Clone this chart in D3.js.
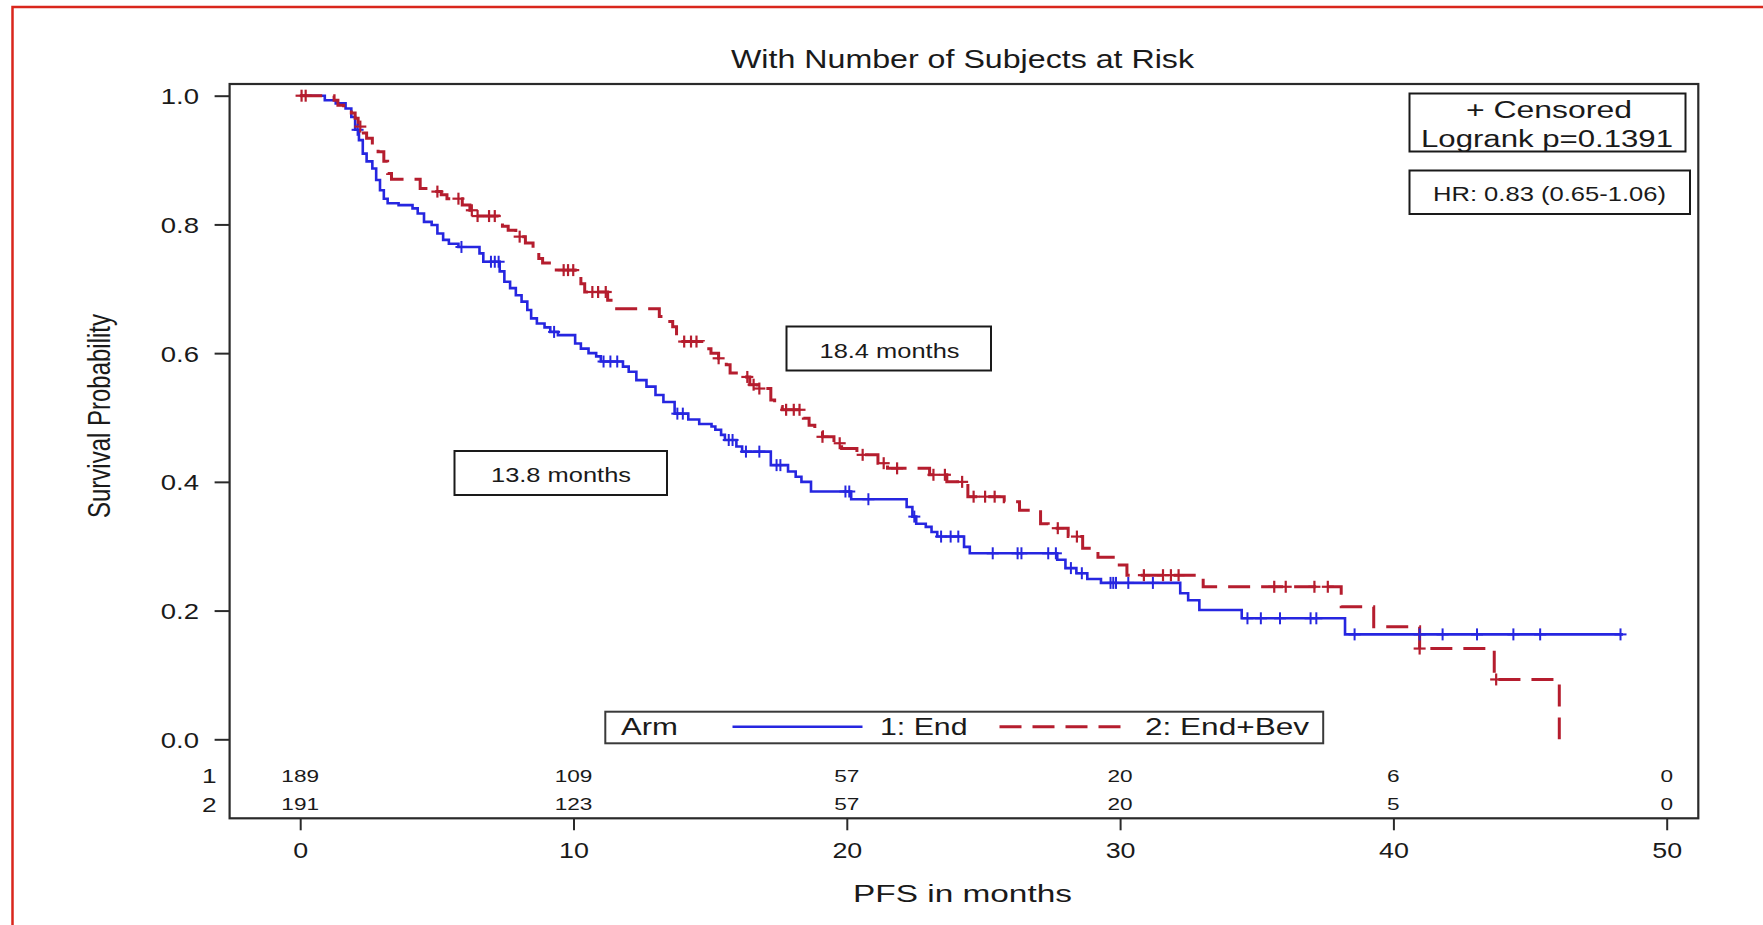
<!DOCTYPE html>
<html>
<head>
<meta charset="utf-8">
<script src="https://cdn.jsdelivr.net/npm/d3@7"></script>
<style>
  html, body { margin: 0; padding: 0; background: #fff; }
  svg { display: block; }
  text { font-family: "Liberation Sans", Arial, sans-serif; fill: #1a1a1a; }
</style>
</head>
<body>
<svg id="chart" width="1763" height="925"></svg>
<script>
// Kaplan–Meier estimates, arm 1 (End): event times in months and survival after each step
const endTimes = [0.9,1.3,1.66,1.87,2.01,2.15,2.29,2.43,2.64,2.78,2.92,3.06,3.2,3.6,4.11,4.3,4.53,4.81,5.02,5.23,5.44,5.79,6.56,6.7,7.3,7.47,7.68,7.89,8.1,8.31,8.45,8.66,8.94,9.15,9.43,10.06,10.27,10.55,10.83,11.0,11.81,12.02,12.3,12.67,13.0,13.29,13.7,14.2,14.6,15.05,15.19,15.4,15.54,15.96,16.17,17.22,17.85,18.13,18.34,18.69,20.16,22.19,22.4,22.54,22.89,23.1,23.31,24.29,24.5,27.7,28.0,28.4,28.8,29.3,32.2,32.49,32.9,34.45,38.23];
const endSurv = [0.993,0.988,0.98,0.967,0.947,0.931,0.91,0.898,0.887,0.869,0.853,0.84,0.833,0.83,0.825,0.817,0.804,0.799,0.786,0.776,0.77,0.765,0.755,0.742,0.727,0.711,0.701,0.69,0.68,0.667,0.654,0.646,0.64,0.633,0.628,0.615,0.607,0.6,0.595,0.587,0.579,0.571,0.558,0.548,0.535,0.524,0.506,0.497,0.49,0.486,0.481,0.473,0.465,0.455,0.447,0.426,0.416,0.408,0.4,0.385,0.373,0.361,0.346,0.335,0.33,0.322,0.315,0.299,0.289,0.279,0.266,0.258,0.249,0.243,0.227,0.216,0.201,0.188,0.163];
const endCensor = [2.1,5.9,6.98,7.12,7.26,9.29,11.1,11.35,11.6,13.8,14.0,15.68,15.82,16.31,16.8,17.43,17.57,19.95,20.09,20.79,22.47,23.45,23.8,24.08,25.34,26.25,26.39,27.37,27.65,28.2,28.6,29.65,29.75,29.85,30.3,31.2,34.66,35.15,35.85,36.97,37.18,38.58,40.96,41.8,43.06,44.39,45.37,48.31];
const endLastFollowUp = 48.4;

// Arm 2 (End+Bev)
const bevTimes = [1.24,1.38,1.59,1.87,2.01,2.12,2.22,2.43,2.64,2.85,3.06,3.2,3.34,4.39,4.6,5.16,5.37,5.93,6.21,6.4,7.26,7.4,7.61,7.89,8.24,8.52,8.73,8.87,9.22,10.06,10.27,10.41,11.25,11.46,13.14,13.35,13.63,13.77,13.91,14.75,15.03,15.31,15.59,15.73,16.17,16.45,16.73,17.22,17.36,17.64,18.41,18.62,18.83,19.11,19.53,19.81,20.37,21.14,21.49,23.03,23.66,24.43,25.76,26.32,27.09,27.37,28.1,28.63,29.19,29.97,30.25,33.04,38.09,39.28,40.96,43.69,46.07];
const bevSurv = [0.993,0.985,0.98,0.973,0.965,0.952,0.942,0.934,0.923,0.913,0.898,0.879,0.87,0.856,0.851,0.846,0.84,0.83,0.822,0.813,0.807,0.797,0.791,0.781,0.771,0.76,0.747,0.74,0.729,0.719,0.708,0.695,0.682,0.669,0.657,0.649,0.641,0.625,0.618,0.607,0.6,0.592,0.582,0.569,0.563,0.551,0.545,0.527,0.517,0.512,0.499,0.488,0.478,0.47,0.46,0.452,0.442,0.429,0.421,0.411,0.4,0.377,0.369,0.356,0.335,0.328,0.315,0.297,0.283,0.271,0.255,0.237,0.206,0.175,0.141,0.093,0];
const bevCensor = [0.05,0.2,2.2,5.02,5.79,6.28,6.49,6.91,7.12,8.03,9.64,9.8,9.99,10.69,10.9,11.18,14.05,14.3,14.5,15.31,16.36,16.59,16.8,17.78,18.06,18.27,19.11,19.74,20.58,21.35,21.84,23.17,23.59,24.22,24.64,25.06,25.41,27.72,28.42,30.87,31.57,31.86,32.14,35.64,36.06,37.11,37.6,40.96,43.76];
const bevLastFollowUp = 46.07;

// Number of subjects at risk
const riskTimes = [0, 10, 20, 30, 40, 50];
const riskEnd = [189, 109, 57, 20, 6, 0];
const riskBev = [191, 123, 57, 20, 5, 0];

// Axis ticks
const xTicks = [0, 10, 20, 30, 40, 50];
const yTicks = [0, 0.2, 0.4, 0.6, 0.8, 1.0];

// Median PFS labels
const medianEnd = "13.8 months";
const medianBev = "18.4 months";

const BLUE = "#2626e0";
const RED = "#b51d2e";

const svg = d3.select("#chart");

// outer red border
svg.append("rect")
  .attr("x", 12.5).attr("y", 7).attr("width", 1800).attr("height", 1000)
  .attr("fill", "none").attr("stroke", "#d9261c").attr("stroke-width", 2.5);

const x = d3.scaleLinear().domain([0, 50]).range([300.2, 1666.7]);
const y = d3.scaleLinear().domain([0, 1]).range([739.3, 95.7]);

const frame = { left: 229.6, top: 84, right: 1698.3, bottom: 818.3 };

// text helper: left-anchored text stretched to a given width
function fitText(str, left, base, size, width) {
  return svg.append("text")
    .attr("x", left).attr("y", base)
    .attr("font-size", size)
    .attr("textLength", width)
    .attr("lengthAdjust", "spacingAndGlyphs")
    .text(str);
}
// text helper: anchored text with a horizontal stretch factor
function wideText(g, str, px, py, size, anchor, sx) {
  return g.append("text")
    .attr("transform", `translate(${px},${py}) scale(${sx},1)`)
    .attr("text-anchor", anchor)
    .attr("font-size", size)
    .text(str);
}

// title
fitText("With Number of Subjects at Risk", 731, 68, 26, 463);

// plot frame
svg.append("rect")
  .attr("x", frame.left).attr("y", frame.top)
  .attr("width", frame.right - frame.left).attr("height", frame.bottom - frame.top)
  .attr("fill", "none").attr("stroke", "#2a2a2a").attr("stroke-width", 2.2);

// y axis
const yAxis = svg.append("g")
  .attr("transform", `translate(${frame.left},0)`)
  .call(d3.axisLeft(y).tickValues(yTicks).tickFormat(d3.format(".1f")).tickSize(15).tickPadding(15.6));
yAxis.select(".domain").remove();
yAxis.selectAll(".tick line").attr("stroke", "#2a2a2a").attr("stroke-width", 2);
yAxis.selectAll(".tick text")
  .attr("font-size", 22).attr("font-family", null).attr("fill", "#1a1a1a")
  .each(function () {
    const t = d3.select(this);
    const tx = +t.attr("x");
    t.attr("x", 0).attr("dy", null).attr("transform", `translate(${tx},8) scale(1.25,1)`);
  });

// x axis
const xAxis = svg.append("g")
  .attr("transform", `translate(0,${frame.bottom})`)
  .call(d3.axisBottom(x).tickValues(xTicks).tickSize(12).tickPadding(12));
xAxis.select(".domain").remove();
xAxis.selectAll(".tick line").attr("stroke", "#2a2a2a").attr("stroke-width", 2);
xAxis.selectAll(".tick text")
  .attr("font-size", 22).attr("font-family", null).attr("fill", "#1a1a1a")
  .each(function () {
    const t = d3.select(this);
    t.attr("y", null).attr("dy", null).attr("transform", `translate(0,40) scale(1.22,1)`);
  });

// axis titles
fitText("PFS in months", 853, 902, 23, 219);
svg.append("text")
  .attr("transform", "translate(110,416) rotate(-90) scale(1,1.3)")
  .attr("text-anchor", "middle")
  .attr("font-size", 24)
  .text("Survival Probability");

// survival curves
function survAt(times, surv, t) {
  const i = d3.bisectRight(times, t) - 1;
  return i < 0 ? 1 : surv[i];
}
function curvePoints(times, surv, last) {
  const pts = [[0, 1]];
  times.forEach((t, i) => pts.push([t, surv[i]]));
  if (last > times[times.length - 1]) pts.push([last, surv[surv.length - 1]]);
  return pts;
}
const stepLine = d3.line().x(d => x(d[0])).y(d => y(d[1])).curve(d3.curveStepAfter);

const curves = svg.append("g");
curves.append("path")
  .attr("d", stepLine(curvePoints(endTimes, endSurv, endLastFollowUp)))
  .attr("fill", "none").attr("stroke", BLUE).attr("stroke-width", 2.6);
curves.append("path")
  .attr("d", stepLine(curvePoints(bevTimes, bevSurv, bevLastFollowUp)))
  .attr("fill", "none").attr("stroke", RED).attr("stroke-width", 3)
  .attr("stroke-dasharray", "22,11");

// censoring marks
function drawCensors(times, surv, cens, color, w) {
  const g = svg.append("g").attr("stroke", color).attr("stroke-width", w);
  cens.forEach(t => {
    const cx = x(t), cy = y(survAt(times, surv, t));
    g.append("line").attr("x1", cx).attr("x2", cx).attr("y1", cy - 6).attr("y2", cy + 6);
    g.append("line").attr("x1", cx - 6).attr("x2", cx + 6).attr("y1", cy).attr("y2", cy);
  });
}
drawCensors(endTimes, endSurv, endCensor, BLUE, 2);
drawCensors(bevTimes, bevSurv, bevCensor, RED, 2.2);

// info boxes
function box(x0, y0, x1, y1) {
  svg.append("rect").attr("x", x0).attr("y", y0).attr("width", x1 - x0).attr("height", y1 - y0)
    .attr("fill", "#fff").attr("stroke", "#1a1a1a").attr("stroke-width", 2);
}
box(1409.5, 93.5, 1685.5, 151.5);
fitText("+ Censored", 1466, 117.5, 23, 166);
fitText("Logrank p=0.1391", 1421, 146.5, 23, 252);
box(1409.5, 170.5, 1690, 214);
fitText("HR: 0.83 (0.65-1.06)", 1433, 200.5, 21, 233);

box(786.5, 326.5, 991, 370.5);
fitText(medianBev, 819.5, 357.5, 21, 140);
box(454.5, 451, 667, 495);
fitText(medianEnd, 491, 482, 21, 140);

// legend
svg.append("rect").attr("x", 605.3).attr("y", 711.7).attr("width", 717.9).attr("height", 31.6)
  .attr("fill", "#fff").attr("stroke", "#3a3a3a").attr("stroke-width", 2);
fitText("Arm", 621, 735, 24.5, 57);
svg.append("line").attr("x1", 732.5).attr("x2", 862.5).attr("y1", 726.7).attr("y2", 726.7)
  .attr("stroke", BLUE).attr("stroke-width", 2.6);
fitText("1: End", 880, 735, 24.5, 87.5);
svg.append("line").attr("x1", 999.5).attr("x2", 1123.5).attr("y1", 726.7).attr("y2", 726.7)
  .attr("stroke", RED).attr("stroke-width", 3).attr("stroke-dasharray", "22,11");
fitText("2: End+Bev", 1145, 735, 24.5, 164);

// numbers at risk
const risk = svg.append("g");
wideText(risk, "1", 216.5, 783, 21, "end", 1.25);
wideText(risk, "2", 216.5, 811.5, 21, "end", 1.25);
riskTimes.forEach((t, i) => {
  wideText(risk, String(riskEnd[i]), x(t), 781.7, 17, "middle", 1.33);
  wideText(risk, String(riskBev[i]), x(t), 810, 17, "middle", 1.33);
});
</script>
</body>
</html>
